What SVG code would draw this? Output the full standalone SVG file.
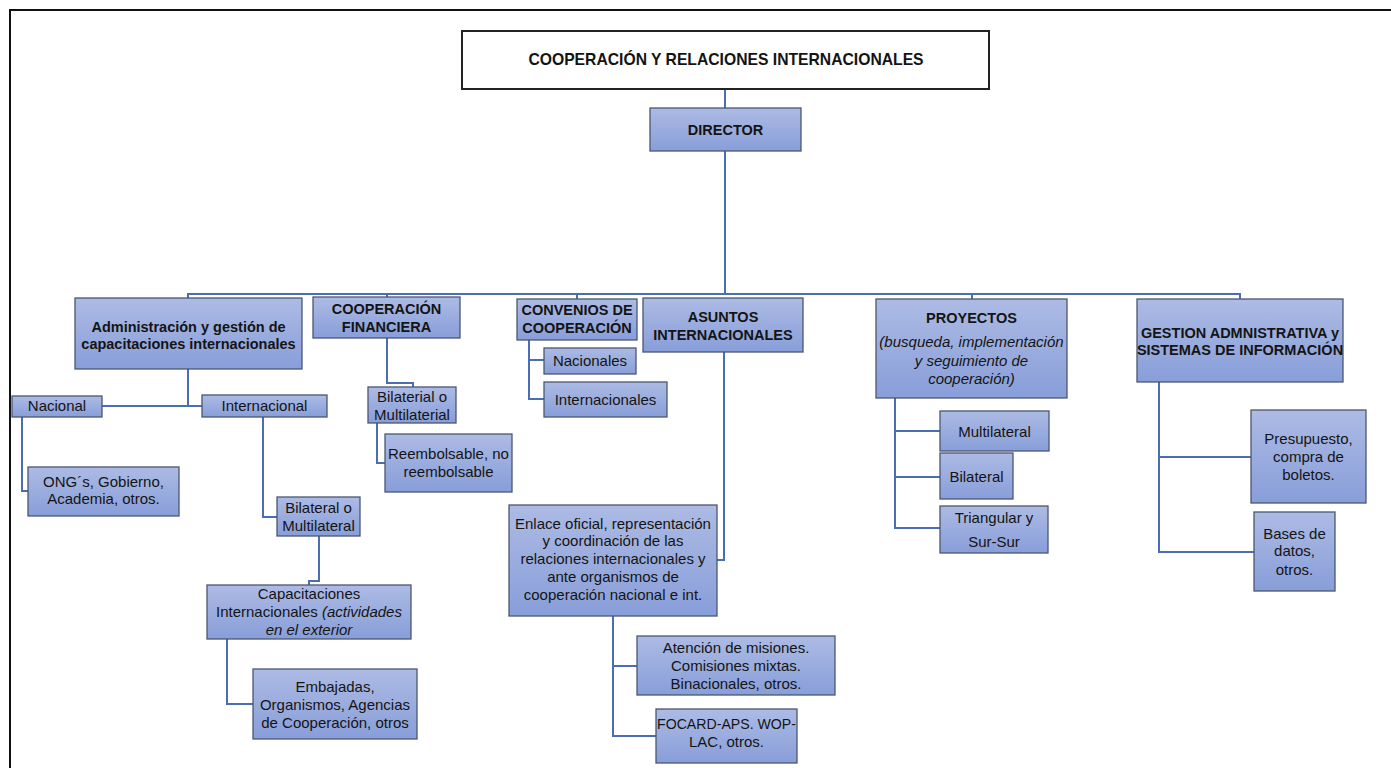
<svg xmlns="http://www.w3.org/2000/svg" width="1391" height="768" viewBox="0 0 1391 768">
  <style>
    .box { fill: url(#boxFill); stroke: #4b5672; stroke-width: 1.3; }
    .conn { fill: none; stroke: #4a6db3; stroke-width: 2; }
    text { font-family: "Liberation Sans", Arial, sans-serif; font-size: 15px; fill: #141414; text-anchor: middle; }
    .b { font-weight: bold; font-size: 14.5px; }
    .i { font-style: italic; }
  </style>
  <defs>
    <linearGradient id="boxFill" x1="0" y1="0" x2="0" y2="1">
      <stop offset="0" stop-color="#adbbe4"/>
      <stop offset="1" stop-color="#889ed9"/>
    </linearGradient>
  </defs>

  <rect x="0" y="0" width="1391" height="768" fill="#ffffff"/>
  <!-- outer frame -->
  <rect x="10" y="10" width="1390" height="780" fill="none" stroke="#111" stroke-width="2"/>

  <!-- connectors -->
  <g id="connectors" class="conn">
    <path d="M725 89 V108"/>
    <path d="M725 151 V294"/>
    <path d="M188 298 V294 H1240 V299"/>
    <path d="M387 294 V297"/>
    <path d="M577 294 V299"/>
    <path d="M972 294 V299"/>
    <!-- Administración -->
    <path d="M188 369 V406"/>
    <path d="M102 406 H202"/>
    <path d="M22 417 V491 H28"/>
    <path d="M263 417 V517 H277"/>
    <path d="M319 536 V581 H309 V585"/>
    <path d="M227 639 V704 H253"/>
    <!-- Cooperación financiera -->
    <path d="M387 338 V383 H413 V387"/>
    <path d="M377 423 V463 H385"/>
    <!-- Convenios -->
    <path d="M529 340 V399 H544"/>
    <path d="M529 360 H544"/>
    <!-- Asuntos -->
    <path d="M724 352 V560 H717"/>
    <path d="M613 616 V736 H656"/>
    <path d="M613 666 H637"/>
    <!-- Proyectos -->
    <path d="M895 398 V528 H940"/>
    <path d="M895 431 H940"/>
    <path d="M895 477 H940"/>
    <!-- Gestión -->
    <path d="M1159 382 V552 H1254"/>
    <path d="M1159 457 H1251"/>
  </g>

  <g id="title">
    <rect x="462" y="31" width="527" height="58" fill="#fff" stroke="#222" stroke-width="2"/>
    <text x="726" y="65" class="b" style="font-size:15.7px">COOPERACIÓN Y RELACIONES INTERNACIONALES</text>
  </g>

  <g id="director">
    <rect class="box" x="650" y="108" width="151" height="43"/>
    <text x="725.5" y="135" class="b">DIRECTOR</text>
  </g>

  <g id="admin">
    <rect class="box" x="75" y="298" width="227" height="71"/>
    <text x="188.5" y="332" class="b">Administración y gestión de</text>
    <text x="188.5" y="348.5" class="b">capacitaciones internacionales</text>
  </g>
  <g id="nacional">
    <rect class="box" x="12" y="396" width="90" height="21"/>
    <text x="57" y="411">Nacional</text>
  </g>
  <g id="internacional">
    <rect class="box" x="202" y="395" width="125" height="22"/>
    <text x="264.5" y="411">Internacional</text>
  </g>
  <g id="ong">
    <rect class="box" x="28" y="467" width="151" height="49"/>
    <text x="103.5" y="487">ONG´s, Gobierno,</text>
    <text x="103.5" y="504">Academia, otros.</text>
  </g>
  <g id="bilateral-multilateral">
    <rect class="box" x="277" y="497" width="83" height="39"/>
    <text x="318.5" y="513">Bilateral o</text>
    <text x="318.5" y="531">Multilateral</text>
  </g>
  <g id="capacitaciones">
    <rect class="box" x="207" y="585" width="204" height="54"/>
    <text x="309" y="599">Capacitaciones</text>
    <text x="309" y="617">Internacionales <tspan class="i">(actividades</tspan></text>
    <text x="309" y="635" class="i">en el exterior</text>
  </g>
  <g id="embajadas">
    <rect class="box" x="253" y="669" width="164" height="70"/>
    <text x="335" y="692">Embajadas,</text>
    <text x="335" y="709.5">Organismos, Agencias</text>
    <text x="335" y="727.5">de Cooperación, otros</text>
  </g>

  <g id="financiera">
    <rect class="box" x="313" y="297" width="147" height="41"/>
    <text x="386.5" y="314" class="b">COOPERACIÓN</text>
    <text x="386.5" y="332" class="b">FINANCIERA</text>
  </g>
  <g id="bilaterial">
    <rect class="box" x="368" y="387" width="88" height="36"/>
    <text x="412" y="402">Bilaterial o</text>
    <text x="412" y="419.5">Multilaterial</text>
  </g>
  <g id="reembolsable">
    <rect class="box" x="385" y="434" width="127" height="58"/>
    <text x="448.5" y="459">Reembolsable, no</text>
    <text x="448.5" y="477">reembolsable</text>
  </g>

  <g id="convenios">
    <rect class="box" x="517" y="299" width="120" height="41"/>
    <text x="577" y="315" class="b">CONVENIOS DE</text>
    <text x="577" y="333" class="b">COOPERACIÓN</text>
  </g>
  <g id="nacionales">
    <rect class="box" x="544" y="348" width="92" height="26"/>
    <text x="590" y="366">Nacionales</text>
  </g>
  <g id="internacionales">
    <rect class="box" x="544" y="382" width="123" height="35"/>
    <text x="605.5" y="405">Internacionales</text>
  </g>

  <g id="asuntos">
    <rect class="box" x="643" y="298" width="160" height="54"/>
    <text x="723" y="322" class="b">ASUNTOS</text>
    <text x="723" y="339.5" class="b">INTERNACIONALES</text>
  </g>
  <g id="enlace">
    <rect class="box" x="509" y="505" width="208" height="111"/>
    <text x="613" y="528.5">Enlace oficial, representación</text>
    <text x="613" y="546">y coordinación de las</text>
    <text x="613" y="564">relaciones internacionales y</text>
    <text x="613" y="582">ante organismos de</text>
    <text x="613" y="600">cooperación nacional e int.</text>
  </g>
  <g id="atencion">
    <rect class="box" x="637" y="636" width="198" height="59"/>
    <text x="736" y="652.5">Atención de misiones.</text>
    <text x="736" y="671">Comisiones mixtas.</text>
    <text x="736" y="688.5">Binacionales, otros.</text>
  </g>
  <g id="focard">
    <rect class="box" x="656" y="709" width="141" height="54"/>
    <text x="726.5" y="728.5" textLength="139" lengthAdjust="spacingAndGlyphs">FOCARD-APS. WOP-</text>
    <text x="726.5" y="747">LAC, otros.</text>
  </g>

  <g id="proyectos">
    <rect class="box" x="876" y="299" width="191" height="99"/>
    <text x="971.5" y="322.5" class="b">PROYECTOS</text>
    <text x="971.5" y="347" class="i">(busqueda, implementación</text>
    <text x="971.5" y="366" class="i">y seguimiento de</text>
    <text x="971.5" y="384" class="i">cooperación)</text>
  </g>
  <g id="multilateral">
    <rect class="box" x="940" y="411" width="109" height="40"/>
    <text x="994.5" y="437">Multilateral</text>
  </g>
  <g id="bilateral">
    <rect class="box" x="940" y="453" width="73" height="46"/>
    <text x="976.5" y="482">Bilateral</text>
  </g>
  <g id="triangular">
    <rect class="box" x="940" y="506" width="108" height="47"/>
    <text x="994" y="523">Triangular y</text>
    <text x="994" y="547">Sur-Sur</text>
  </g>

  <g id="gestion">
    <rect class="box" x="1137" y="299" width="206" height="83"/>
    <text x="1240" y="337.5" class="b">GESTION ADMNISTRATIVA y</text>
    <text x="1240" y="355" class="b">SISTEMAS DE INFORMACIÓN</text>
  </g>
  <g id="presupuesto">
    <rect class="box" x="1251" y="410" width="115" height="93"/>
    <text x="1308.5" y="443.5">Presupuesto,</text>
    <text x="1308.5" y="462">compra de</text>
    <text x="1308.5" y="480">boletos.</text>
  </g>
  <g id="bases">
    <rect class="box" x="1254" y="512" width="81" height="79"/>
    <text x="1294.5" y="538.5">Bases de</text>
    <text x="1294.5" y="556">datos,</text>
    <text x="1294.5" y="575">otros.</text>
  </g>
</svg>
